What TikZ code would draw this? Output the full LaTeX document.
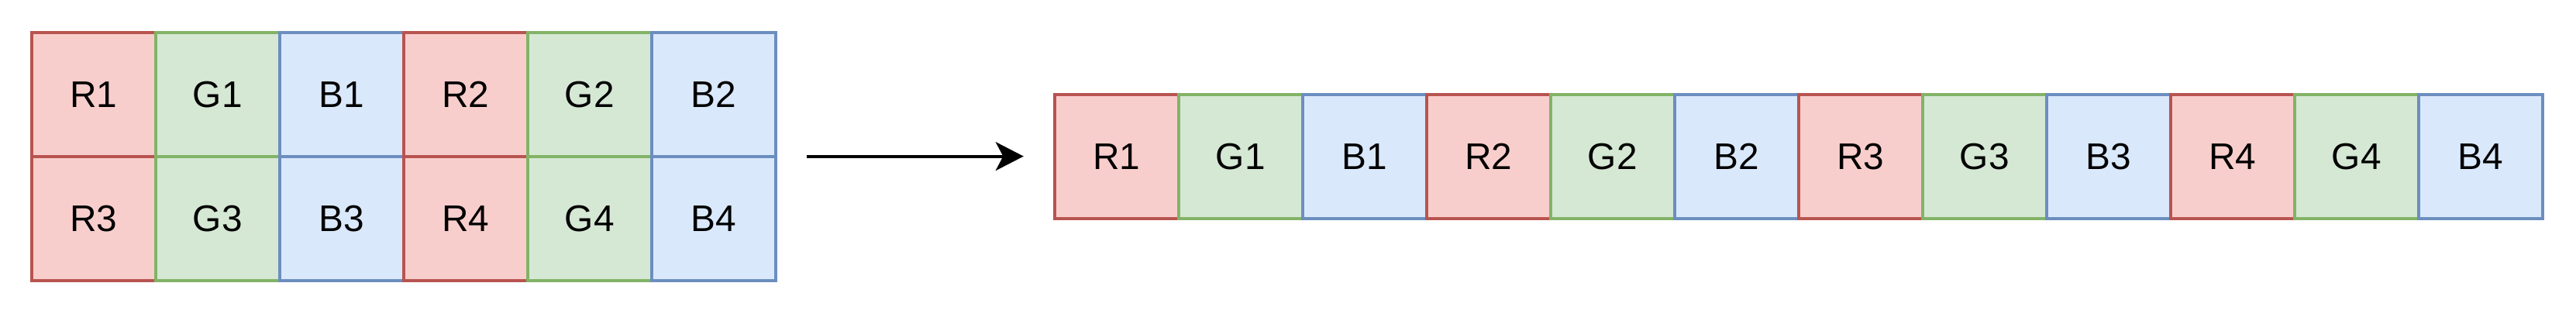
\documentclass[tikz,border=0pt]{standalone}
\usepackage{fontspec}
\setmainfont{Liberation Sans}
\usetikzlibrary{arrows.meta}
\definecolor{redfill}{HTML}{F8CECC}
\definecolor{redline}{HTML}{B85450}
\definecolor{greenfill}{HTML}{D5E8D4}
\definecolor{greenline}{HTML}{82B366}
\definecolor{bluefill}{HTML}{DAE8FC}
\definecolor{blueline}{HTML}{6C8EBF}
\tikzset{
    cell/.style={minimum width=2cm, minimum height=2cm, inner sep=0pt, outer sep=0pt,
        line width=1.4pt, font=\fontsize{17}{20}\selectfont},
    R cell/.style={cell, fill=redfill, draw=redline},
    G cell/.style={cell, fill=greenfill, draw=greenline},
    B cell/.style={cell, fill=bluefill, draw=blueline},
}

\begin{document}
\begin{tikzpicture}
\useasboundingbox (0,0) rectangle (41.55,5.05);
\foreach \n in {1,...,4} {
\pgfmathsetmacro\gx{1.51+6*mod(\n-1,2)}
\pgfmathsetmacro\gy{3.53-2*floor((\n-1)/2)}
\pgfmathsetmacro\ox{18.01+6*(\n-1)}
\foreach \c/\k in {R/0,G/1,B/2} {
\node[\c\space cell] (in\c\n) at (\gx+2*\k,\gy) {\c\n};
\node[\c\space cell] (out\c\n) at (\ox+2*\k,2.53) {\c\n};
}
}
\draw[-{Stealth[length=0.45cm,width=0.46cm,inset=0.12cm]}, line width=1.4pt] ([xshift=0.5cm]inB2.south east) -- ([xshift=-0.5cm]outR1.west);
\end{tikzpicture}
\end{document}
